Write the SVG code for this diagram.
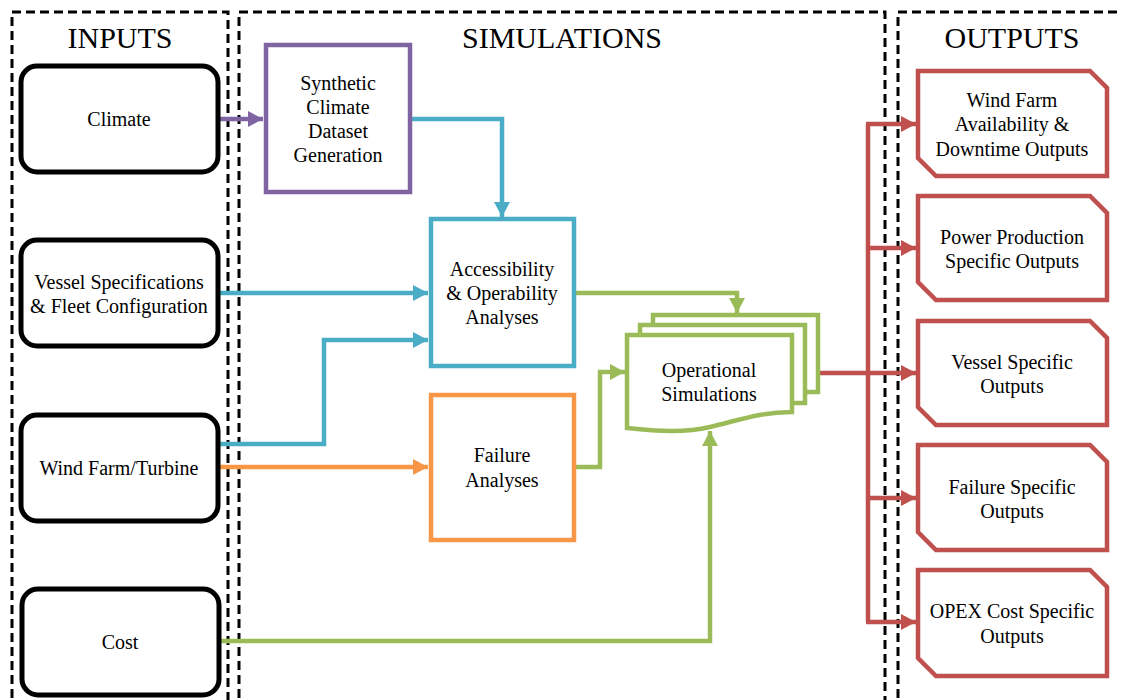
<svg xmlns="http://www.w3.org/2000/svg" width="1121" height="700" viewBox="0 0 1121 700">
<defs>
<style>
.panel{fill:none;stroke:#000;stroke-width:3;stroke-dasharray:9 5}
.title{font-family:"Liberation Serif",serif;font-size:30px;text-anchor:middle;fill:#000}
.lbl{font-family:"Liberation Serif",serif;font-size:20px;text-anchor:middle;fill:#000}
.inp{fill:#fff;stroke:#000;stroke-width:5}
.box{fill:#fff;stroke-width:4.5}
.c{fill:none;stroke-width:4.5}
.pu{stroke:#8064A2}.bl{stroke:#4BACC6}.or{stroke:#F79646}.gr{stroke:#9BBB59}.rd{stroke:#C0504D}
</style>
<marker id="aPu" markerUnits="userSpaceOnUse" markerWidth="16" markerHeight="18" refX="15" refY="9" orient="auto"><path d="M0,1 L15,9 L0,17 z" fill="#8064A2"/></marker>
<marker id="aBl" markerUnits="userSpaceOnUse" markerWidth="16" markerHeight="18" refX="15" refY="9" orient="auto"><path d="M0,1 L15,9 L0,17 z" fill="#4BACC6"/></marker>
<marker id="aOr" markerUnits="userSpaceOnUse" markerWidth="16" markerHeight="18" refX="15" refY="9" orient="auto"><path d="M0,1 L15,9 L0,17 z" fill="#F79646"/></marker>
<marker id="aGr" markerUnits="userSpaceOnUse" markerWidth="16" markerHeight="18" refX="15" refY="9" orient="auto"><path d="M0,1 L15,9 L0,17 z" fill="#9BBB59"/></marker>
<marker id="aRd" markerUnits="userSpaceOnUse" markerWidth="16" markerHeight="18" refX="15" refY="9" orient="auto"><path d="M0,1 L15,9 L0,17 z" fill="#C0504D"/></marker>
</defs>
<rect width="1121" height="700" fill="#fff"/>

<g id="panels">
<path class="panel" d="M12,712 V12 H228 V712"/>
<path class="panel" d="M239,712 V12 H885 V712"/>
<path class="panel" d="M898,712 V12 H1130"/>
<text class="title" x="120" y="48">INPUTS</text>
<text class="title" x="562" y="48">SIMULATIONS</text>
<text class="title" x="1012" y="48">OUTPUTS</text>
</g>

<g id="connectors">
<path class="c pu" d="M218,119 H263" marker-end="url(#aPu)"/>
<path class="c bl" d="M410,119 H502 V217" marker-end="url(#aBl)"/>
<path class="c bl" d="M218,293 H428" marker-end="url(#aBl)"/>
<path class="c bl" d="M218,444 H324 V340 H428" marker-end="url(#aBl)"/>
<path class="c or" d="M218,467 H428" marker-end="url(#aOr)"/>
<path class="c gr" d="M574,293 H737 V313" marker-end="url(#aGr)"/>
<path class="c gr" d="M574,467 H600 V372 H625" marker-end="url(#aGr)"/>
<path class="c gr" d="M218,641 H710 V431" marker-end="url(#aGr)"/>
<path class="c rd" d="M818,373 H916" marker-end="url(#aRd)"/>
<path class="c rd" d="M868,124 V622"/>
<path class="c rd" d="M866,124 H916" marker-end="url(#aRd)"/>
<path class="c rd" d="M868,248 H916" marker-end="url(#aRd)"/>
<path class="c rd" d="M868,498 H916" marker-end="url(#aRd)"/>
<path class="c rd" d="M866,622 H916" marker-end="url(#aRd)"/>
</g>

<g id="climate">
<rect class="inp" x="21" y="66" width="197" height="106" rx="16"/>
<text class="lbl" x="119" y="126">Climate</text>
</g>
<g id="vessel">
<rect class="inp" x="21" y="240" width="197" height="106" rx="16"/>
<text class="lbl" x="119" y="289">Vessel Specifications</text>
<text class="lbl" x="119" y="313">&amp; Fleet Configuration</text>
</g>
<g id="windfarm">
<rect class="inp" x="21" y="415" width="197" height="106" rx="16"/>
<text class="lbl" x="119" y="475">Wind Farm/Turbine</text>
</g>
<g id="cost">
<rect class="inp" x="22" y="589" width="197" height="106" rx="16"/>
<text class="lbl" x="120" y="649">Cost</text>
</g>

<g id="synthetic">
<rect class="box pu" x="266" y="45" width="144" height="147"/>
<text class="lbl" x="338" y="90">Synthetic</text>
<text class="lbl" x="338" y="114">Climate</text>
<text class="lbl" x="338" y="138">Dataset</text>
<text class="lbl" x="338" y="162">Generation</text>
</g>
<g id="accessibility">
<rect class="box bl" x="431" y="219" width="143" height="147"/>
<text class="lbl" x="502" y="276">Accessibility</text>
<text class="lbl" x="502" y="300">&amp; Operability</text>
<text class="lbl" x="502" y="324">Analyses</text>
</g>
<g id="failure">
<rect class="box or" x="431" y="395" width="143" height="145"/>
<text class="lbl" x="502" y="462">Failure</text>
<text class="lbl" x="502" y="487">Analyses</text>
</g>
<g id="operational">
<path class="box gr" d="M653,324 V315 H818 V392 H805"/>
<path class="box gr" d="M640,334 V325 H805 V403 H792"/>
<path class="box gr" d="M627,335 H792 V412 C760,412 740,420 710,427 C680,434 650,430 627,428 Z"/>
<text class="lbl" x="709" y="377">Operational</text>
<text class="lbl" x="709" y="401">Simulations</text>
</g>

<g id="out1">
<path class="box rd" d="M918,71 H1090 L1107,88 V176 H936 L918,158 Z"/>
<text class="lbl" x="1012" y="107">Wind Farm</text>
<text class="lbl" x="1012" y="131">Availability &amp;</text>
<text class="lbl" x="1012" y="156">Downtime Outputs</text>
</g>
<g id="out2">
<path class="box rd" d="M918,196 H1090 L1107,213 V300 H936 L918,282 Z"/>
<text class="lbl" x="1012" y="244">Power Production</text>
<text class="lbl" x="1012" y="268">Specific Outputs</text>
</g>
<g id="out3">
<path class="box rd" d="M918,321 H1090 L1107,338 V425 H936 L918,407 Z"/>
<text class="lbl" x="1012" y="369">Vessel Specific</text>
<text class="lbl" x="1012" y="393">Outputs</text>
</g>
<g id="out4">
<path class="box rd" d="M918,445 H1090 L1107,462 V550 H936 L918,532 Z"/>
<text class="lbl" x="1012" y="494">Failure Specific</text>
<text class="lbl" x="1012" y="518">Outputs</text>
</g>
<g id="out5">
<path class="box rd" d="M918,570 H1090 L1107,587 V676 H936 L918,658 Z"/>
<text class="lbl" x="1012" y="618">OPEX Cost Specific</text>
<text class="lbl" x="1012" y="643">Outputs</text>
</g>
</svg>
